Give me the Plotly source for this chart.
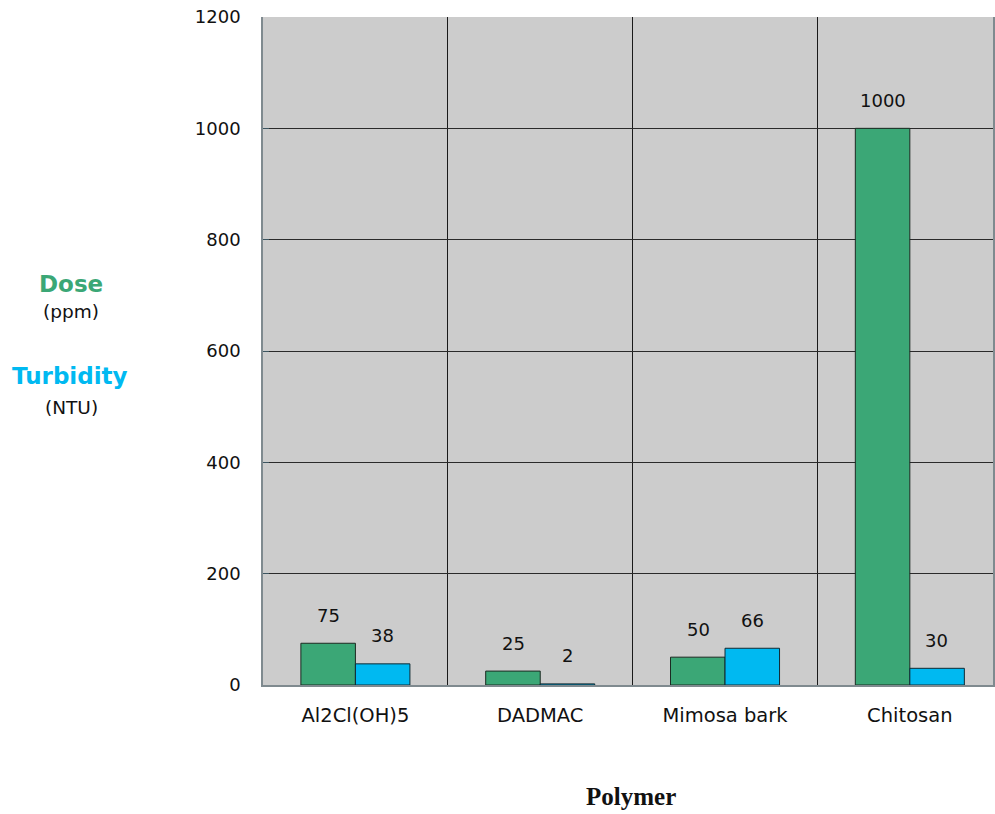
import plotly.graph_objects as go

polymers = ["Al2Cl(OH)5", "DADMAC", "Mimosa bark", "Chitosan"]
dose_ppm = [75, 25, 50, 1000]
turbidity_ntu = [38, 2, 66, 30]
y_ticks = [0, 200, 400, 600, 800, 1000, 1200]

GREEN = "#3ba776"
BLUE = "#00b9f1"
FONT = "DejaVu Sans, Arial, sans-serif"
SERIF = "Liberation Serif, Times New Roman, serif"

# plot-area geometry in pixels (used to place the side labels)
W, H = 995, 814
L, R, T, B = 263, 0, 17, 129
PW, PH = W - L - R, H - T - B


def px(x):
    return (x - L) / PW


def py(y):
    return (H - B - y) / PH


fig = go.Figure()
fig.add_trace(go.Bar(x=polymers, y=dose_ppm, name="Dose",
                     marker=dict(color=GREEN, line=dict(color="#1c2a22", width=1))))
fig.add_trace(go.Bar(x=polymers, y=turbidity_ntu, name="Turbidity",
                     marker=dict(color=BLUE, line=dict(color="#102a33", width=1))))

# value labels floating above each bar
for series, shift in ((dose_ppm, -27), (turbidity_ntu, 27)):
    for cat, val in zip(polymers, series):
        fig.add_annotation(x=cat, y=val, xref="x", yref="y", text=str(val),
                           showarrow=False, xshift=shift, yshift=28,
                           font=dict(family=FONT, size=18, color="#111"))

# left-hand legend block
for txt, xx, yy, size, color, bold in (("Dose", 70, 284, 23, GREEN, True),
                                       ("(ppm)", 70, 312, 18.5, "#111", False),
                                       ("Turbidity", 69, 376, 23, BLUE, True),
                                       ("(NTU)", 71, 407, 18.5, "#111", False)):
    fig.add_annotation(x=px(xx), y=py(yy), xref="paper", yref="paper",
                       text=f"<b>{txt}</b>" if bold else txt, showarrow=False,
                       xanchor="center", yanchor="middle",
                       font=dict(family=FONT, size=size, color=color))

fig.add_annotation(x=px(632), y=py(796), xref="paper", yref="paper",
                   text="<b>Polymer</b>", showarrow=False,
                   xanchor="center", yanchor="middle",
                   font=dict(family=SERIF, size=25, color="#111"))

fig.update_layout(
    width=W, height=H,
    margin=dict(l=L, r=R, t=T, b=B),
    paper_bgcolor="white", plot_bgcolor="#cccccc",
    barmode="group", bargap=0.41, bargroupgap=0,
    showlegend=False,
    font=dict(family=FONT, size=18, color="#111"),
)
fig.update_xaxes(type="category", range=[-0.5, 3.45],
                 tickson="boundaries", ticks="", showgrid=True,
                 gridcolor="#1a1a1a", gridwidth=1,
                 showline=True, linecolor="#7f8a8f", linewidth=1.5,
                 ticklabelstandoff=12, tickfont=dict(family=FONT, size=19.5))
fig.update_yaxes(range=[0, 1200], tickvals=y_ticks, showgrid=True,
                 gridcolor="#2a2a2a", gridwidth=1, zeroline=False,
                 showline=True, linecolor="#7f8a8f", linewidth=1.5, mirror=True,
                 ticks="inside", ticklen=6, tickcolor="#3c5560",
                 ticklabelstandoff=17, tickfont=dict(family=FONT, size=18))

fig.write_html("out.html")
